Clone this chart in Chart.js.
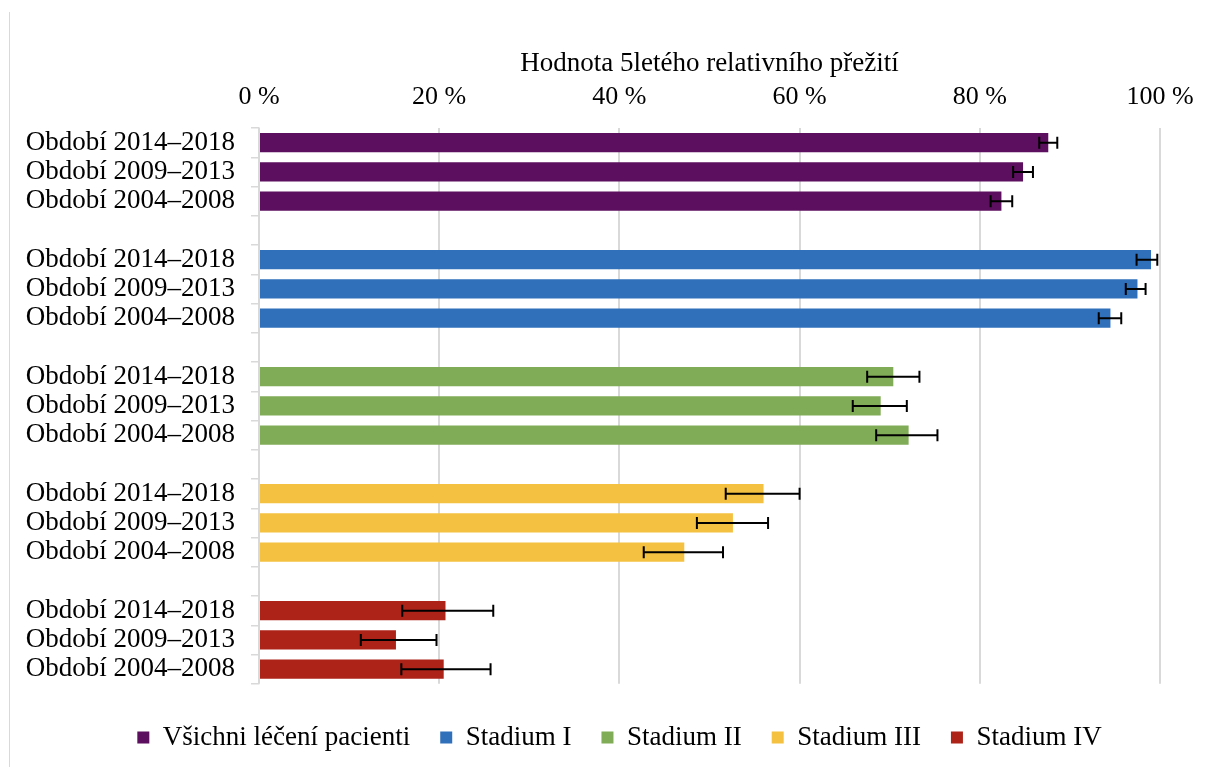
<!DOCTYPE html>
<html>
<head>
<meta charset="utf-8">
<script src="https://cdn.jsdelivr.net/npm/chart.js@4/dist/chart.umd.min.js"></script>
<style>
  html, body { margin: 0; padding: 0; background: #fff; }
  #wrap { position: relative; width: 1210px; height: 767px; }
  #frame { position: absolute; left: 9px; top: 12px; bottom: 0; border-left: 1px solid #d9d9d9; }
  canvas { position: absolute; left: 0; top: 0; }
</style>
</head>
<body>
<div id="wrap"><div id="frame"></div><canvas id="chart" width="1210" height="767"></canvas></div>
<script>
// ── Data ─────────────────────────────────
const periods = ['Období 2014–2018', 'Období 2009–2013', 'Období 2004–2008'];
const seriesNames = ['Všichni léčení pacienti', 'Stadium I', 'Stadium II', 'Stadium III', 'Stadium IV'];
const seriesColors = ['#5c0f5e', '#3070bb', '#80ab57', '#f4c141', '#ad2318'];
const xTicks = [0, 20, 40, 60, 80, 100];

// 5leté relativní přežití (%) a meze intervalu spolehlivosti
const allValues   = [87.6, 84.8, 82.4];
const allLow      = [86.6, 83.7, 81.2];
const allHigh     = [88.6, 85.9, 83.6];
const stage1Values = [99.0, 97.5, 94.5];
const stage1Low    = [97.4, 96.2, 93.2];
const stage1High   = [99.7, 98.4, 95.7];
const stage2Values = [70.4, 69.0, 72.1];
const stage2Low    = [67.5, 65.9, 68.5];
const stage2High   = [73.3, 71.9, 75.3];
const stage3Values = [56.0, 52.6, 47.2];
const stage3Low    = [51.8, 48.6, 42.7];
const stage3High   = [60.0, 56.5, 51.5];
const stage4Values = [20.7, 15.2, 20.5];
const stage4Low    = [15.9, 11.3, 15.8];
const stage4High   = [26.0, 19.7, 25.7];

const groups = [
  { values: allValues, low: allLow, high: allHigh },
  { values: stage1Values, low: stage1Low, high: stage1High },
  { values: stage2Values, low: stage2Low, high: stage2High },
  { values: stage3Values, low: stage3Low, high: stage3High },
  { values: stage4Values, low: stage4Low, high: stage4High }
];

// Build rows: 3 periods per group, an empty row between groups
const labels = [];
const datasets = seriesNames.map((name, i) => ({
  label: name, data: [], low: [], high: [],
  backgroundColor: seriesColors[i], borderWidth: 0,
  barPercentage: 0.66, categoryPercentage: 1
}));
groups.forEach((g, gi) => {
  if (gi > 0) {
    labels.push('');
    datasets.forEach(d => { d.data.push(null); d.low.push(null); d.high.push(null); });
  }
  periods.forEach((p, pi) => {
    labels.push(p);
    datasets.forEach((d, di) => {
      d.data.push(di === gi ? g.values[pi] : null);
      d.low.push(di === gi ? g.low[pi] : null);
      d.high.push(di === gi ? g.high[pi] : null);
    });
  });
});

// ── Error bars ─────────────────────────────────
const errorBars = {
  id: 'errorBars',
  afterDatasetsDraw(chart) {
    const { ctx, scales: { x, y } } = chart;
    ctx.save();
    ctx.strokeStyle = '#000';
    ctx.lineWidth = 2;
    chart.data.datasets.forEach(ds => {
      ds.data.forEach((v, j) => {
        if (v == null) return;
        const yy = y.getPixelForValue(j);
        const x1 = x.getPixelForValue(ds.low[j]);
        const x2 = x.getPixelForValue(ds.high[j]);
        ctx.beginPath();
        ctx.moveTo(x1, yy); ctx.lineTo(x2, yy);
        ctx.moveTo(x1, yy - 6); ctx.lineTo(x1, yy + 6);
        ctx.moveTo(x2, yy - 6); ctx.lineTo(x2, yy + 6);
        ctx.stroke();
      });
    });
    ctx.restore();
  }
};

// legend sits a bit right of the canvas centre in the original
const legendShift = {
  id: 'legendShift',
  afterLayout(chart) {
    chart.legend.left += 35;
    chart.legend.right += 35;
  }
};

const serif = "'Liberation Serif', 'Times New Roman', serif";
Chart.defaults.font.family = serif;
Chart.defaults.color = '#000';

new Chart(document.getElementById('chart'), {
  type: 'bar',
  data: { labels, datasets },
  plugins: [errorBars, legendShift],
  options: {
    indexAxis: 'y',
    responsive: false,
    animation: false,
    layout: { padding: { left: 9, right: 50, top: 40, bottom: 6 } },
    plugins: {
      tooltip: { enabled: false },
      legend: {
        position: 'bottom',
        title: { display: true, text: '', font: { size: 1 }, padding: { top: 9, bottom: 0 } },
        labels: { font: { size: 27 }, boxWidth: 12, boxHeight: 12, padding: 30, color: '#000' }
      }
    },
    scales: {
      x: {
        position: 'top',
        min: 0, max: 100,
        afterBuildTicks: s => { s.ticks = xTicks.map(v => ({ value: v })); },
        afterFit: s => { s.height = 88; },
        ticks: { font: { size: 26 }, padding: 15, callback: v => v + ' %' },
        grid: { color: '#d9d9d9', lineWidth: 2, drawTicks: false },
        border: { display: false },
        title: { display: true, text: 'Hodnota 5letého relativního přežití', font: { size: 27 }, padding: { top: 8, bottom: 0 } }
      },
      y: {
        stacked: true,
        afterFit: s => { s.width = 250; },
        ticks: { font: { size: 27 }, padding: 16, autoSkip: false },
        grid: { offset: true, drawOnChartArea: false, tickLength: 8, color: '#d9d9d9', lineWidth: 1.5 },
        border: { color: '#d9d9d9', width: 1.5 }
      }
    }
  }
});
</script>
</body>
</html>
